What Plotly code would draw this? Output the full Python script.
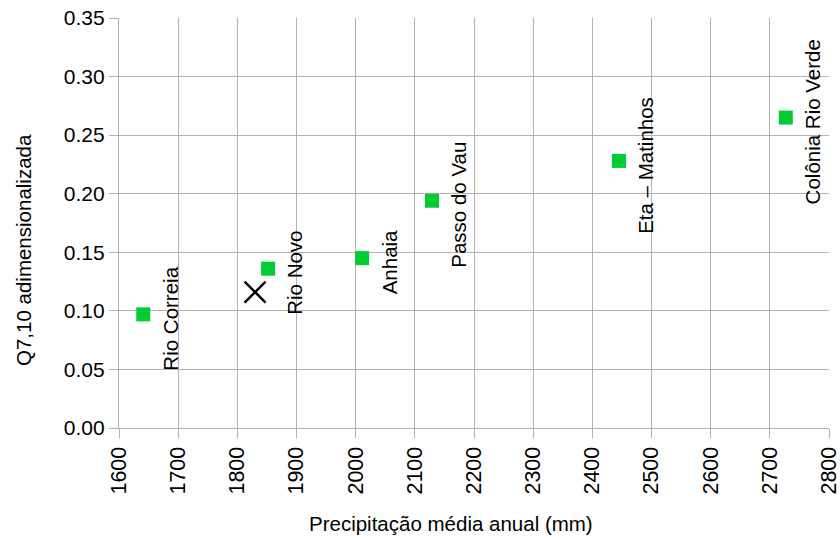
import plotly.graph_objects as go

stations = ["Rio Correia", "Rio Novo", "Anhaia", "Passo do Vau", "Eta – Matinhos", "Colônia Rio Verde"]
precip = [1641, 1852, 2011, 2129, 2445, 2727]
q710 = [0.097, 0.136, 0.145, 0.194, 0.228, 0.265]

x_point = [1830]
y_point = [0.116]

x_ticks = [1600, 1700, 1800, 1900, 2000, 2100, 2200, 2300, 2400, 2500, 2600, 2700, 2800]
y_ticks = [0.00, 0.05, 0.10, 0.15, 0.20, 0.25, 0.30, 0.35]

font_family = "Liberation Sans, Arial, sans-serif"
grid = "#b3b3b3"

fig = go.Figure()
fig.add_trace(go.Scatter(
    x=precip, y=q710, mode="markers",
    marker=dict(symbol="square", size=14, color="#00cc33"),
    showlegend=False,
))
fig.add_trace(go.Scatter(
    x=x_point, y=y_point, mode="markers",
    marker=dict(symbol="x-thin", size=21, color="black", line=dict(color="black", width=2.5)),
    showlegend=False,
))

for name, xv, yv in zip(stations, precip, q710):
    fig.add_annotation(
        x=xv, y=yv, text=name, showarrow=False, textangle=-90,
        xshift=27, yshift=-4,
        font=dict(family=font_family, size=20.5, color="black"),
    )

# axis titles as paper annotations
fig.add_annotation(
    xref="paper", yref="paper", x=(451 - 119) / 710, y=(428 - 523) / 410,
    text="Precipitação média anual (mm)", showarrow=False,
    xanchor="center", yanchor="middle",
    font=dict(family=font_family, size=20.5, color="black"),
)
fig.add_annotation(
    xref="paper", yref="paper", x=(23 - 119) / 710, y=(428 - 250) / 410,
    text="Q7,10 adimensionalizada", showarrow=False, textangle=-90,
    xanchor="center", yanchor="middle",
    font=dict(family=font_family, size=20.5, color="black"),
)

fig.update_layout(
    width=840, height=540,
    margin=dict(l=119, r=11, t=18, b=112),
    paper_bgcolor="white", plot_bgcolor="white",
    font=dict(family=font_family, color="black"),
)
fig.update_xaxes(
    range=[1600, 2800], tickvals=x_ticks, ticktext=[str(v) for v in x_ticks],
    tickangle=-90, tickfont=dict(size=21.5), ticklabeloverflow="allow",
    showgrid=True, gridcolor=grid, gridwidth=1.3,
    showline=True, linecolor=grid, linewidth=1.3,
    ticks="outside", ticklen=9, tickcolor=grid, tickwidth=1.3, zeroline=False,
    automargin=False,
)
fig.update_yaxes(
    range=[0, 0.35], tickvals=y_ticks, ticktext=[f"{v:.2f}" for v in y_ticks],
    tickfont=dict(size=21), ticklabeloverflow="allow",
    showgrid=True, gridcolor=grid, gridwidth=1.3,
    showline=True, linecolor=grid, linewidth=1.3,
    ticks="outside", ticklen=9, tickcolor=grid, tickwidth=1.3, zeroline=False,
    automargin=False,
)

fig.write_html(
    "out.html",
    config={"displayModeBar": False},
    post_script="document.body.style.margin='0';",
)
